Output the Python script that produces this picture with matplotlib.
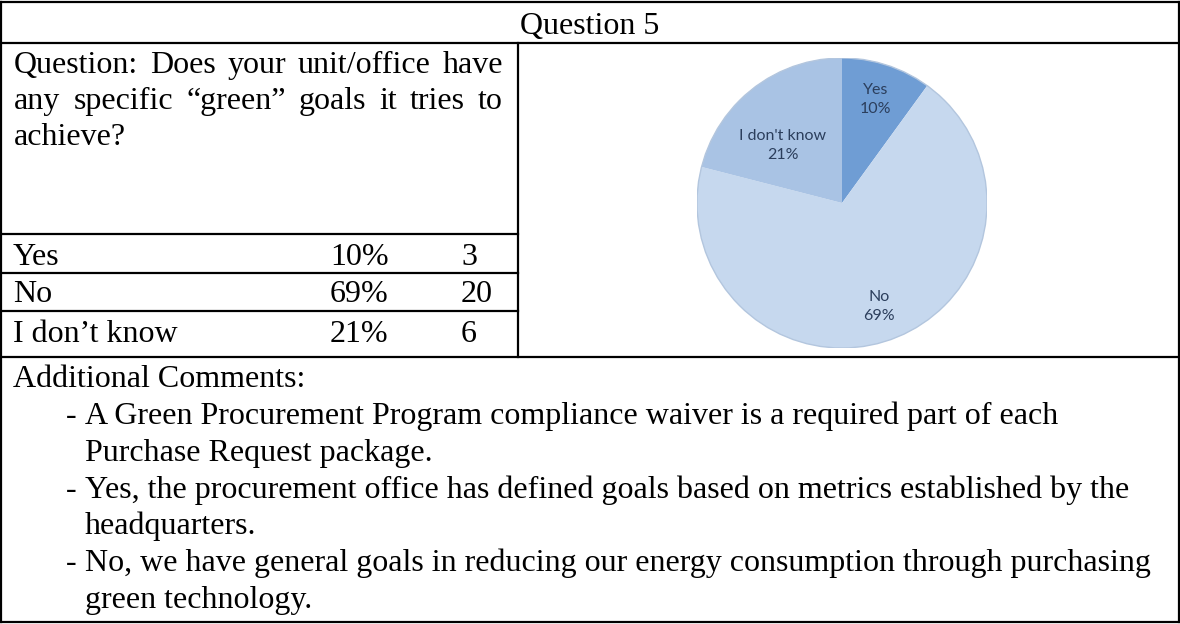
import matplotlib.pyplot as plt
import numpy as np

# data
title = 'Question 5'
question_lines = [
    'Question: Does your unit/office have',
    'any specific “green” goals it tries to',
    'achieve?',
]
answers = ['Yes', 'No', 'I don’t know']
pie_labels = ['Yes', 'No', "I don't know"]
percents = [10, 69, 21]
counts = [3, 20, 6]
comments_head = 'Additional Comments:'
comments = [
    ['A Green Procurement Program compliance waiver is a required part of each',
     'Purchase Request package.'],
    ['Yes, the procurement office has defined goals based on metrics established by the',
     'headquarters.'],
    ['No, we have general goals in reducing our energy consumption through purchasing',
     'green technology.'],
]

W, H = 1180, 624
fig = plt.figure(figsize=(W / 100, H / 100), dpi=100)
ax = fig.add_axes([0, 0, 1, 1])
ax.set_xlim(0, W)
ax.set_ylim(H, 0)
ax.axis('off')

serif = 'Liberation Serif'
fs = 23
lw = 1.6

# table lines
def hline(y, x0=1, x1=W - 1):
    ax.plot([x0, x1], [y, y], color='black', lw=lw, solid_capstyle='projecting')

def vline(x, y0, y1):
    ax.plot([x, x], [y0, y1], color='black', lw=lw, solid_capstyle='projecting')

hline(2)
hline(43)
hline(357)
hline(622)
vline(1, 2, 622)
vline(W - 1, 2, 622)
vline(518, 43, 357)
for y in [234, 273, 311]:
    hline(y, 1, 518)

# header
ax.text(590, 34, title, fontsize=fs, family=serif, ha='center', va='baseline')

# justified question text
renderer = fig.canvas.get_renderer()

def justify(words, x0, x1, y):
    ts = [ax.text(0, y, w, fontsize=fs, family=serif, va='baseline') for w in words]
    widths = [t.get_window_extent(renderer).width for t in ts]
    gap = (x1 - x0 - sum(widths)) / (len(words) - 1)
    x = x0
    for t, w in zip(ts, widths):
        t.set_x(x)
        x += w + gap

q_base = [73, 109, 145]
for i, line in enumerate(question_lines):
    if i < len(question_lines) - 1:
        justify(line.split(' '), 14, 503, q_base[i])
    else:
        ax.text(14, q_base[i], line, fontsize=fs, family=serif, va='baseline')

# answer rows
row_base = [265, 302, 342]
for a, p, c, yb in zip(answers, percents, counts, row_base):
    ax.text(13, yb, a, fontsize=fs, family=serif, va='baseline')
    ax.text(330, yb, f'{p}%', fontsize=fs, family=serif, va='baseline')
    ax.text(461, yb, str(c), fontsize=fs, family=serif, va='baseline')

# comments
ax.text(13, 387, comments_head, fontsize=fs, family=serif, va='baseline')
yb = 424
for lines in comments:
    ax.text(66, yb, '-', fontsize=fs, family=serif, va='baseline')
    for ln in lines:
        ax.text(85, yb, ln, fontsize=fs, family=serif, va='baseline')
        yb += 36.8

# pie chart
cx, cy, r = 842, 203, 145
pax = fig.add_axes([(cx - r) / W, (H - cy - r) / H, 2 * r / W, 2 * r / H])
colors = ['#6f9dd4', '#c6d8ee', '#a9c3e4']
wedges, _ = pax.pie(percents, colors=colors, startangle=90, counterclock=False,
                    radius=1, wedgeprops=dict(linewidth=0))
pax.add_patch(plt.Circle((0, 0), 1, fill=False, ec='#b3c6de', lw=1.0))
pax.set_xlim(-1, 1)
pax.set_ylim(-1, 1)
pax.set_aspect('equal')
pax.axis('off')

label_r = [0.75, 0.76, 0.57]
label_shift = [0, 0, 8]
for w, lab, p, lr, sh in zip(wedges, pie_labels, percents, label_r, label_shift):
    ang = np.radians((w.theta1 + w.theta2) / 2 + sh)
    pax.text(lr * np.cos(ang), lr * np.sin(ang), f'{lab}\n{p}%', ha='center', va='center',
             fontsize=11.5, family='Lato', color='#2b3e5c', linespacing=1.5)

fig.savefig('out.png', dpi=100)
